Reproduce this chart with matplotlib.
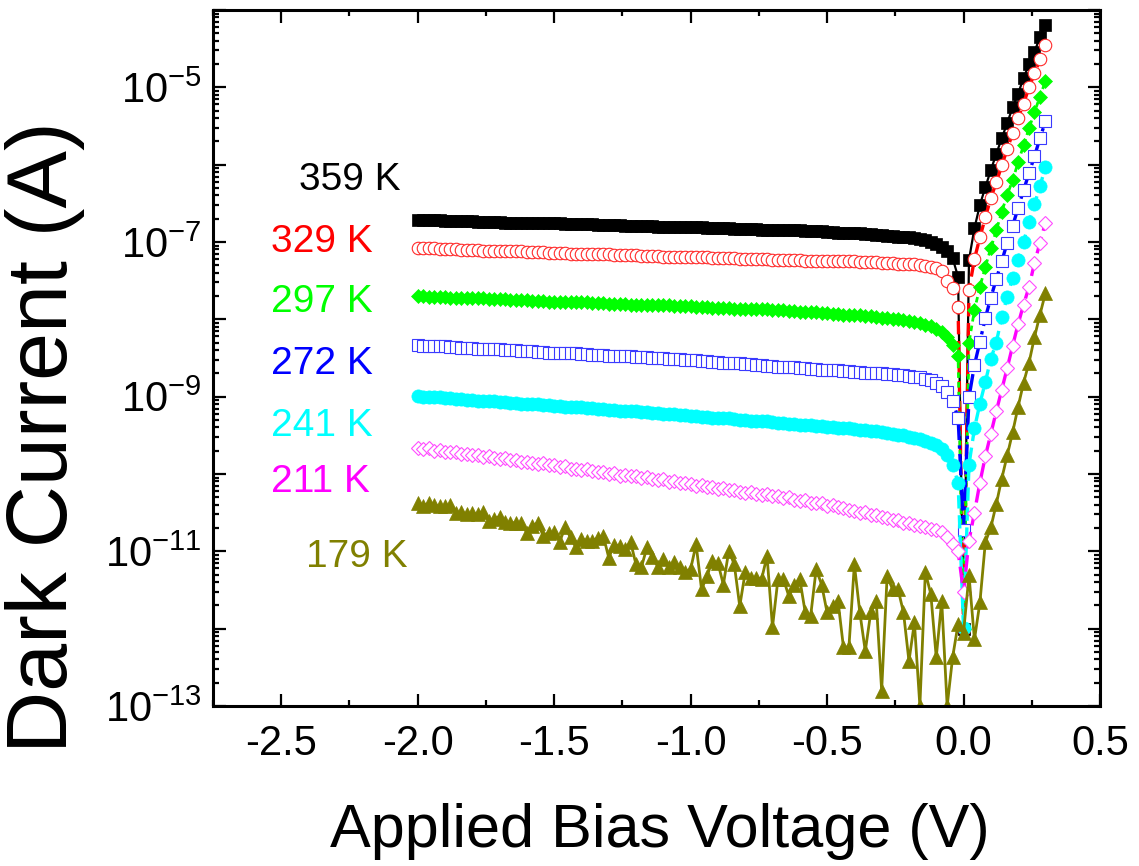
import numpy as np
import matplotlib
matplotlib.use("Agg")
import matplotlib.pyplot as plt
from matplotlib.ticker import FixedLocator, LogLocator, FuncFormatter, MultipleLocator, NullFormatter

plt.rcParams['font.family'] = ['Liberation Sans', 'DejaVu Sans']
plt.rcParams['mathtext.fontset'] = 'custom'
plt.rcParams['mathtext.rm'] = 'Liberation Sans'
plt.rcParams['mathtext.it'] = 'Liberation Sans:italic'
plt.rcParams['axes.unicode_minus'] = False

# bias sweep, -2.0 V .. 0.3 V in 20 mV steps
voltage = np.round(np.arange(-2.0, 0.3001, 0.02), 2)

# log10 of dark current (A)
# reverse branch: -2.00 ... -0.02 V (100 points), then 0 V, then forward 0.02 ... 0.30 V
log_359_rev = [
    -6.72, -6.72, -6.72, -6.72, -6.72, -6.73, -6.73, -6.73, -6.73, -6.73,
    -6.73, -6.74, -6.74, -6.74, -6.74, -6.74, -6.75, -6.75, -6.75, -6.75,
    -6.75, -6.75, -6.76, -6.76, -6.76, -6.76, -6.76, -6.77, -6.77, -6.77,
    -6.77, -6.77, -6.77, -6.78, -6.78, -6.78, -6.78, -6.78, -6.79, -6.79,
    -6.79, -6.79, -6.79, -6.79, -6.80, -6.80, -6.80, -6.80, -6.80, -6.81,
    -6.81, -6.81, -6.81, -6.82, -6.82, -6.82, -6.82, -6.82, -6.83, -6.83,
    -6.83, -6.83, -6.83, -6.84, -6.84, -6.84, -6.84, -6.84, -6.85, -6.85,
    -6.85, -6.86, -6.86, -6.86, -6.86, -6.87, -6.87, -6.88, -6.88, -6.88,
    -6.89, -6.89, -6.90, -6.90, -6.91, -6.91, -6.92, -6.92, -6.93, -6.94,
    -6.94, -6.95, -6.96, -6.98, -7.00, -7.02, -7.06, -7.12, -7.21, -7.45]
log_359_zero = -12.0
log_359_fwd = [-7.23, -6.82, -6.52, -6.29, -6.07, -5.86, -5.66, -5.46,
               -5.26, -5.08, -4.88, -4.70, -4.54, -4.35, -4.19]

log_329_rev = [
    -7.08, -7.08, -7.08, -7.08, -7.09, -7.09, -7.09, -7.09, -7.10, -7.10,
    -7.10, -7.10, -7.11, -7.11, -7.11, -7.11, -7.12, -7.12, -7.12, -7.12,
    -7.13, -7.13, -7.13, -7.13, -7.14, -7.14, -7.14, -7.14, -7.15, -7.15,
    -7.15, -7.15, -7.16, -7.16, -7.16, -7.16, -7.17, -7.17, -7.17, -7.17,
    -7.17, -7.18, -7.18, -7.18, -7.18, -7.19, -7.19, -7.19, -7.19, -7.19,
    -7.20, -7.20, -7.20, -7.20, -7.21, -7.21, -7.21, -7.21, -7.21, -7.22,
    -7.22, -7.22, -7.22, -7.22, -7.22, -7.23, -7.23, -7.23, -7.23, -7.23,
    -7.23, -7.24, -7.24, -7.24, -7.24, -7.24, -7.25, -7.25, -7.25, -7.25,
    -7.25, -7.26, -7.26, -7.26, -7.26, -7.27, -7.27, -7.27, -7.28, -7.28,
    -7.29, -7.29, -7.30, -7.31, -7.32, -7.34, -7.38, -7.50, -7.60, -7.84]
log_329_zero = -12.0
log_329_fwd = [-7.62, -7.22, -6.94, -6.68, -6.43, -6.23, -6.01, -5.80,
               -5.59, -5.40, -5.21, -5.00, -4.82, -4.64, -4.45]

log_297_rev = [
    -7.70, -7.70, -7.71, -7.71, -7.71, -7.71, -7.72, -7.72, -7.72, -7.73,
    -7.73, -7.73, -7.73, -7.74, -7.74, -7.74, -7.74, -7.75, -7.75, -7.75,
    -7.75, -7.76, -7.76, -7.76, -7.77, -7.77, -7.77, -7.77, -7.78, -7.78,
    -7.78, -7.78, -7.79, -7.79, -7.79, -7.80, -7.80, -7.80, -7.80, -7.81,
    -7.81, -7.81, -7.81, -7.82, -7.82, -7.82, -7.82, -7.83, -7.83, -7.83,
    -7.83, -7.84, -7.84, -7.84, -7.85, -7.85, -7.85, -7.85, -7.86, -7.86,
    -7.86, -7.86, -7.87, -7.87, -7.87, -7.88, -7.88, -7.88, -7.89, -7.89,
    -7.90, -7.90, -7.91, -7.91, -7.92, -7.92, -7.93, -7.93, -7.94, -7.94,
    -7.95, -7.95, -7.96, -7.96, -7.97, -7.98, -7.98, -7.99, -8.00, -8.01,
    -8.02, -8.03, -8.05, -8.07, -8.09, -8.12, -8.16, -8.23, -8.33, -8.48]
log_297_zero = -12.0
log_297_fwd = [-8.30, -7.88, -7.58, -7.32, -7.08, -6.85, -6.61, -6.39,
               -6.20, -5.97, -5.75, -5.53, -5.32, -5.12, -4.92]

log_272_rev = [
    -8.33, -8.34, -8.34, -8.35, -8.35, -8.35, -8.36, -8.36, -8.37, -8.37,
    -8.37, -8.38, -8.38, -8.38, -8.39, -8.39, -8.40, -8.40, -8.40, -8.41,
    -8.41, -8.41, -8.42, -8.42, -8.43, -8.43, -8.43, -8.44, -8.44, -8.44,
    -8.45, -8.45, -8.46, -8.46, -8.46, -8.47, -8.47, -8.47, -8.48, -8.48,
    -8.49, -8.49, -8.49, -8.50, -8.50, -8.50, -8.51, -8.51, -8.51, -8.52,
    -8.53, -8.53, -8.54, -8.54, -8.55, -8.55, -8.56, -8.56, -8.57, -8.57,
    -8.58, -8.58, -8.59, -8.59, -8.60, -8.60, -8.61, -8.61, -8.62, -8.62,
    -8.63, -8.63, -8.64, -8.64, -8.65, -8.65, -8.66, -8.66, -8.67, -8.67,
    -8.68, -8.68, -8.69, -8.69, -8.70, -8.70, -8.71, -8.71, -8.72, -8.72,
    -8.73, -8.74, -8.75, -8.77, -8.79, -8.82, -8.86, -8.94, -9.06, -9.27]
log_272_zero = -10.73
log_272_fwd = [-9.01, -8.59, -8.29, -7.98, -7.72, -7.48, -7.25, -7.01,
               -6.79, -6.56, -6.33, -6.11, -5.89, -5.66, -5.44]

log_241_rev = [
    -8.99, -9.00, -9.00, -9.01, -9.01, -9.02, -9.02, -9.03, -9.03, -9.04,
    -9.04, -9.05, -9.05, -9.06, -9.06, -9.07, -9.07, -9.08, -9.08, -9.09,
    -9.09, -9.10, -9.10, -9.11, -9.11, -9.12, -9.12, -9.13, -9.13, -9.14,
    -9.14, -9.15, -9.15, -9.16, -9.16, -9.17, -9.17, -9.18, -9.18, -9.19,
    -9.19, -9.20, -9.20, -9.21, -9.21, -9.22, -9.22, -9.23, -9.24, -9.24,
    -9.25, -9.25, -9.26, -9.26, -9.27, -9.27, -9.28, -9.28, -9.29, -9.30,
    -9.30, -9.31, -9.31, -9.32, -9.32, -9.33, -9.34, -9.34, -9.35, -9.35,
    -9.36, -9.36, -9.37, -9.38, -9.38, -9.39, -9.39, -9.40, -9.41, -9.41,
    -9.42, -9.43, -9.43, -9.44, -9.45, -9.46, -9.47, -9.48, -9.49, -9.50,
    -9.52, -9.53, -9.55, -9.57, -9.60, -9.63, -9.68, -9.76, -9.88, -10.11]
log_241_zero = -11.99
log_241_fwd = [-9.88, -9.41, -9.09, -8.81, -8.51, -8.30, -7.97, -7.71,
               -7.46, -7.23, -7.00, -6.74, -6.51, -6.28, -6.03]

log_211_rev = [
    -9.66, -9.68, -9.67, -9.70, -9.69, -9.71, -9.72, -9.71, -9.74, -9.74,
    -9.76, -9.75, -9.78, -9.77, -9.79, -9.80, -9.79, -9.82, -9.82, -9.84,
    -9.84, -9.86, -9.87, -9.86, -9.89, -9.89, -9.91, -9.90, -9.93, -9.93,
    -9.95, -9.94, -9.96, -9.98, -9.97, -10.00, -9.99, -10.02, -10.01, -10.03,
    -10.03, -10.05, -10.04, -10.07, -10.08, -10.07, -10.10, -10.09, -10.12, -10.12,
    -10.13, -10.15, -10.14, -10.17, -10.17, -10.19, -10.18, -10.21, -10.21, -10.23,
    -10.24, -10.23, -10.26, -10.27, -10.26, -10.29, -10.29, -10.31, -10.30, -10.33,
    -10.35, -10.34, -10.37, -10.38, -10.38, -10.41, -10.40, -10.43, -10.44, -10.46,
    -10.48, -10.50, -10.49, -10.53, -10.53, -10.56, -10.57, -10.59, -10.60, -10.63,
    -10.64, -10.66, -10.67, -10.69, -10.71, -10.72, -10.75, -10.81, -10.90, -11.00]
log_211_zero = -11.53
log_211_fwd = [-10.86, -10.50, -10.11, -9.77, -9.48, -9.19, -8.91, -8.63,
               -8.34, -8.06, -7.81, -7.58, -7.27, -7.01, -6.75]

log_179_rev = [
    -10.38, -10.41, -10.38, -10.40, -10.42, -10.42, -10.40, -10.50, -10.49, -10.52,
    -10.51, -10.52, -10.49, -10.61, -10.58, -10.55, -10.62, -10.63, -10.63, -10.64,
    -10.76, -10.67, -10.63, -10.80, -10.76, -10.75, -10.88, -10.69, -10.82, -10.95,
    -10.84, -10.86, -10.86, -10.83, -10.80, -11.08, -10.92, -10.93, -10.97, -10.88,
    -11.17, -11.20, -10.95, -11.07, -11.20, -11.10, -11.20, -11.14, -11.20, -11.27,
    -11.23, -10.91, -11.49, -11.32, -11.12, -11.15, -11.43, -10.99, -11.17, -11.71,
    -11.27, -11.34, -11.34, -11.36, -11.06, -11.98, -11.36, -11.36, -11.58, -11.43,
    -11.36, -11.79, -11.83, -11.23, -11.43, -11.79, -11.71, -11.64, -12.24, -12.24,
    -11.17, -11.79, -12.29, -11.79, -11.64, -12.80, -11.32, -11.49, -11.49, -11.79,
    -12.42, -11.92, -13.00, -11.27, -11.55, -12.37, -11.64, -13.00, -12.37, -11.94]
log_179_zero = -12.05
log_179_fwd = [-11.31, -12.14, -11.66, -10.88, -10.69, -10.39, -10.06, -9.76,
               -9.46, -9.13, -8.82, -8.56, -8.23, -7.94, -7.66]

temperatures = ['359 K', '329 K', '297 K', '272 K', '241 K', '211 K', '179 K']
colors = ['#000000', '#ff0000', '#00ff00', '#0000ff', '#00ffff', '#ff00ff', '#808000']
label_pos = [(-2.434, -6.20), (-2.537, -7.00), (-2.537, -7.77), (-2.537, -8.58),
             (-2.537, -9.38), (-2.537, -10.10), (-2.408, -11.07)]

series = [
    (log_359_rev, log_359_zero, log_359_fwd),
    (log_329_rev, log_329_zero, log_329_fwd),
    (log_297_rev, log_297_zero, log_297_fwd),
    (log_272_rev, log_272_zero, log_272_fwd),
    (log_241_rev, log_241_zero, log_241_fwd),
    (log_211_rev, log_211_zero, log_211_fwd),
    (log_179_rev, log_179_zero, log_179_fwd),
]

styles = [
    dict(marker='s', ms=8.3, mfc='#000000', mec='#000000', mew=0.5, ls='-', lw=1.6),
    dict(marker='o', ms=9.0, mfc='white', mec='#ff2a2a', mew=0.8, ls=(0, (4, 2)), lw=2.4),
    dict(marker='D', ms=7.4, mfc='#00ff00', mec='#00ff00', mew=0.5, ls=(0, (2, 1.5)), lw=2.0),
    dict(marker='s', ms=8.5, mfc='white', mec='#3a3aff', mew=0.8, ls='-.', lw=2.4),
    dict(marker='o', ms=9.5, mfc='#00ffff', mec='#00ffff', mew=0.5, ls=(0, (4, 2)), lw=2.4),
    dict(marker='D', ms=7.6, mfc='white', mec='#ff4cff', mew=0.8, ls=(0, (5, 2)), lw=2.4),
    dict(marker='^', ms=10.0, mfc='#808000', mec='#808000', mew=0.5, ls='-', lw=2.0),
]

fig = plt.figure(figsize=(11.39, 8.66), dpi=100)
ax = fig.add_axes([213 / 1139, 160 / 866, 887 / 1139, 696 / 866])

for (rev, zero, fwd), col, st in zip(series, colors, styles):
    current = 10.0 ** np.array(rev + [zero] + fwd)
    ax.plot(voltage, current, color=col, **st)

for name, col, (x, y) in zip(temperatures, colors, label_pos):
    ax.text(x, 10.0 ** y, name, color=col, fontsize=28, ha='left', va='center')

ax.set_yscale('log')
ax.set_xlim(-2.75, 0.5)
ax.set_ylim(1e-13, 1e-4)

ax.xaxis.set_major_locator(MultipleLocator(0.5))
ax.xaxis.set_minor_locator(MultipleLocator(0.25))
ax.xaxis.set_major_formatter(FuncFormatter(lambda v, p: '%.1f' % v))

decades = [10.0 ** e for e in range(-13, -3)]
ax.yaxis.set_major_locator(FixedLocator(decades))
ax.yaxis.set_minor_locator(LogLocator(base=10, subs=np.arange(2, 10), numticks=20))
ax.yaxis.set_minor_formatter(NullFormatter())


def ylabel_fmt(v, pos):
    e = int(round(np.log10(v)))
    if e % 2 == 0 or e == -4:
        return ''
    return r'$\mathregular{10^{%d}}$' % e


ax.yaxis.set_major_formatter(FuncFormatter(ylabel_fmt))

for s in ax.spines.values():
    s.set_linewidth(2.2)
ax.tick_params(which='both', direction='in', top=True, right=True, width=1.6, labelsize=30)
ax.tick_params(which='major', length=9)
ax.tick_params(which='minor', length=4.5)
ax.tick_params(axis='x', which='major', pad=13)
ax.tick_params(axis='y', which='major', pad=8)

fig.text(660 / 1139, 1 - 847 / 866, 'Applied Bias Voltage (V)', fontsize=44,
         ha='center', va='baseline')
fig.text(45 / 1139, 1 - 437 / 866, 'Dark Current (A)', fontsize=62,
         rotation=90, ha='center', va='center')

fig.savefig('out.png', dpi=100)
